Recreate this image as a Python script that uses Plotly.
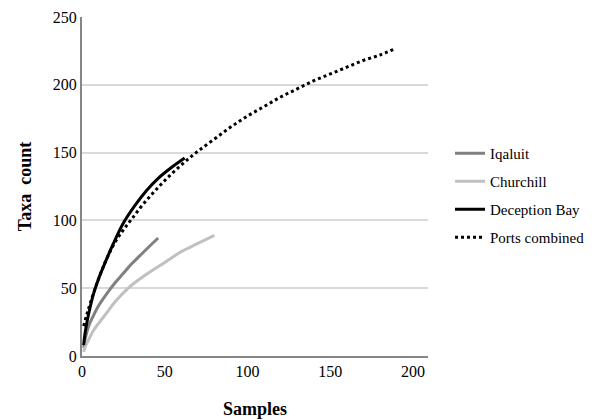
import plotly.graph_objects as go

# Data
iqaluit_x = [1, 2, 4, 7, 10, 15, 20, 25, 30, 35, 40, 46]
iqaluit_y = [6, 13, 22, 30, 37, 46, 54, 61, 68, 74, 80, 87]

churchill_x = [1, 2, 4, 7, 10, 15, 20, 27, 34, 41, 50, 60, 70, 80]
churchill_y = [3, 7, 12, 19, 24, 32, 40, 49, 56, 62, 69, 77, 83, 89]

deception_x = [1, 2, 4, 7, 10, 14, 19, 25, 32, 39, 46, 54, 62]
deception_y = [8, 18, 31, 46, 57, 69, 83, 98, 111, 122, 131, 139, 146]

ports_x = [1, 3, 5, 8, 11, 15, 20, 25, 30, 37, 45, 53, 62, 70, 80, 90, 100,
           110, 120, 130, 140, 150, 160, 170, 180, 188]
ports_y = [22, 31, 39, 50, 60, 72, 84, 93, 101, 112, 123, 133, 143, 151, 160,
           169, 177, 184, 191, 197, 203, 208, 213, 218, 222, 226]

x_ticks = [0, 50, 100, 150, 200]
y_ticks = [0, 50, 100, 150, 200, 250]

FONT = "Liberation Serif"
W, H = 586, 412  # page body has an 8px margin

fig = go.Figure()
series = [
    ("Iqaluit", iqaluit_x, iqaluit_y, "#808080", "solid"),
    ("Churchill", churchill_x, churchill_y, "#C0C0C0", "solid"),
    ("Deception Bay", deception_x, deception_y, "#000000", "solid"),
    ("Ports combined", ports_x, ports_y, "#000000", "dot"),
]
for name, xs, ys, col, dash in series:
    fig.add_trace(go.Scatter(
        x=xs, y=ys, name=name, mode="lines",
        line=dict(color=col, width=3, dash=dash, shape="spline", smoothing=1.0),
        legendgroup=name,
    ))

fig.update_layout(
    width=W, height=H,
    margin=dict(l=74, r=166, t=9, b=64),
    paper_bgcolor="white", plot_bgcolor="white",
    font=dict(family=FONT, size=15, color="#000000"),
    showlegend=True,
    legend=dict(
        xref="container", yref="container",
        x=442 / W, y=1 - 129 / H, xanchor="left", yanchor="top",
        font=dict(family=FONT, size=15),
        tracegroupgap=5.5,
        bgcolor="rgba(0,0,0,0)",
    ),
    xaxis=dict(
        range=[0, 209], tickvals=x_ticks, ticktext=[str(v) for v in x_ticks],
        showgrid=False, zeroline=False, automargin=False,
        showline=True, linecolor="#868686", linewidth=2,
        ticks="", tickfont=dict(family=FONT, size=16),
        title=dict(text="<b>Samples</b>", font=dict(family=FONT, size=18), standoff=23),
    ),
    yaxis=dict(
        range=[0, 250], tickvals=y_ticks, ticktext=[str(v) for v in y_ticks],
        showgrid=True, gridcolor="#D9D9D9", gridwidth=1.5, zeroline=False,
        automargin=False,
        showline=True, linecolor="#868686", linewidth=2,
        ticks="", tickfont=dict(family=FONT, size=16),
        title=dict(text="<b>Taxa  count</b>", font=dict(family=FONT, size=18), standoff=16),
    ),
)

fig.write_html("out.html")
